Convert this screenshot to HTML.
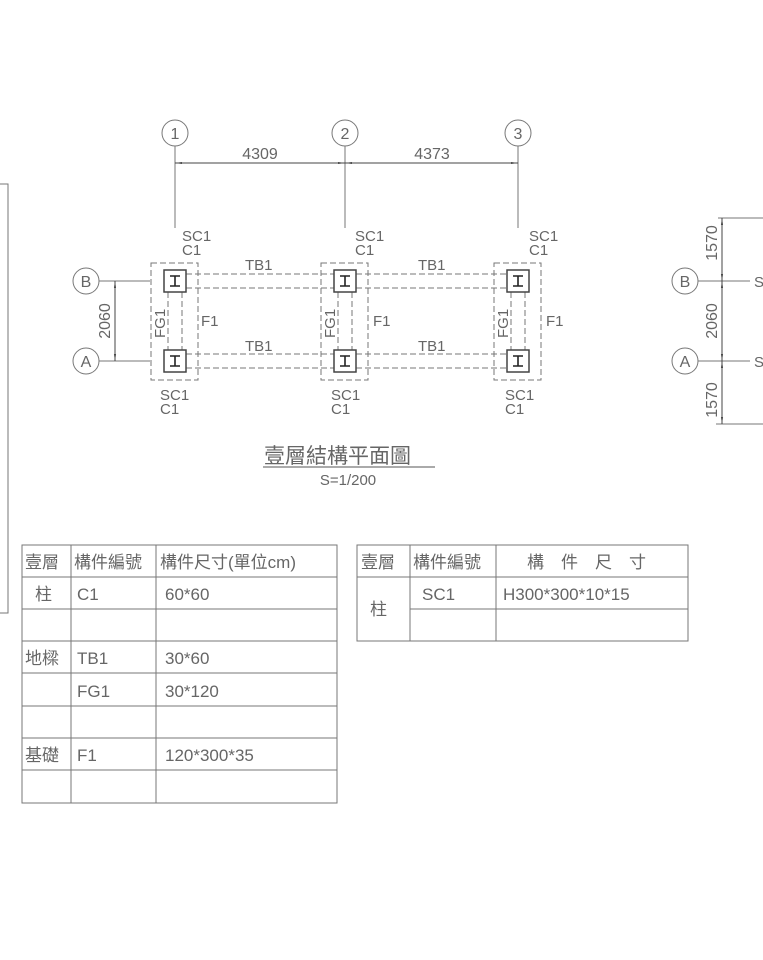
<!DOCTYPE html>
<html><head><meta charset="utf-8"><style>
html,body{margin:0;padding:0;background:#fff;}
svg{display:block;}
text{font-family:"Liberation Sans","Noto Sans CJK TC",sans-serif;fill:#666;}
</style></head><body>
<svg width="763" height="960" viewBox="0 0 763 960" xmlns="http://www.w3.org/2000/svg">
<defs>
<marker id="ar" viewBox="0 0 10 10" refX="10" refY="5" markerWidth="7" markerHeight="7" orient="auto-start-reverse"><path d="M0,3.5 L10,5 L0,6.5 z" fill="#444"/></marker>
<g id="col">
 <rect x="-11" y="-11" width="22" height="22" fill="#fff" stroke="#444" stroke-width="1.5"/>
 <path d="M-5,-5 H5 M0,-5 V5 M-5,5 H5" stroke="#222" stroke-width="1.6" fill="none"/>
</g>
</defs>
<g stroke="#777" stroke-width="1" fill="none">
<path d="M0,184 H8 V613 H0"/>
<circle cx="175" cy="133" r="13"/><circle cx="345" cy="133" r="13"/><circle cx="518" cy="133" r="13"/>
<path d="M175,146 V228 M345,146 V228 M518,146 V228"/>
<circle cx="86" cy="281" r="13"/><circle cx="86" cy="361" r="13"/>
<path d="M99,281 H150 M99,361 H150"/>
<g stroke-dasharray="6,3">
<rect x="151" y="263" width="47" height="117"/>
<rect x="321" y="263" width="47" height="117"/>
<rect x="494" y="263" width="47" height="117"/>
<path d="M186,274 H334 M186,288 H334 M356,274 H507 M356,288 H507"/>
<path d="M186,354 H334 M186,368 H334 M356,354 H507 M356,368 H507"/>
<path d="M168,292 V350 M182,292 V350 M338,292 V350 M352,292 V350 M511,292 V350 M525,292 V350"/>
</g>
<circle cx="685" cy="281" r="13"/><circle cx="685" cy="361" r="13"/>
<path d="M698,281 H750 M698,361 H750 M718,218 H763 M716,424 H763"/>
</g>
<g stroke="#444" stroke-width="1" fill="none">
<line x1="175" y1="163" x2="345" y2="163" marker-start="url(#ar)" marker-end="url(#ar)"/>
<line x1="345" y1="163" x2="518" y2="163" marker-start="url(#ar)" marker-end="url(#ar)"/>
<line x1="115" y1="281" x2="115" y2="361" marker-start="url(#ar)" marker-end="url(#ar)"/>
<line x1="722" y1="218" x2="722" y2="281" marker-start="url(#ar)" marker-end="url(#ar)"/>
<line x1="722" y1="281" x2="722" y2="361" marker-start="url(#ar)" marker-end="url(#ar)"/>
<line x1="722" y1="361" x2="722" y2="424" marker-start="url(#ar)" marker-end="url(#ar)"/>
</g>
<use href="#col" x="175" y="281"/><use href="#col" x="175" y="361"/>
<use href="#col" x="345" y="281"/><use href="#col" x="345" y="361"/>
<use href="#col" x="518" y="281"/><use href="#col" x="518" y="361"/>
<g font-size="16" text-anchor="middle">
<text x="175" y="139">1</text><text x="345" y="139">2</text><text x="518" y="139">3</text>
<text x="86" y="287">B</text><text x="86" y="367">A</text>
<text x="685" y="287">B</text><text x="685" y="367">A</text>
<text x="260" y="159">4309</text><text x="432" y="159">4373</text>
<text transform="translate(110,321) rotate(-90)">2060</text>
<text transform="translate(717,243) rotate(-90)">1570</text>
<text transform="translate(717,321) rotate(-90)">2060</text>
<text transform="translate(717,400) rotate(-90)">1570</text>
</g>
<g font-size="15">
<text x="182" y="241">SC1</text><text x="182" y="255">C1</text>
<text x="355" y="241">SC1</text><text x="355" y="255">C1</text>
<text x="529" y="241">SC1</text><text x="529" y="255">C1</text>
<text x="160" y="400">SC1</text><text x="160" y="414">C1</text>
<text x="331" y="400">SC1</text><text x="331" y="414">C1</text>
<text x="505" y="400">SC1</text><text x="505" y="414">C1</text>
<text x="245" y="270">TB1</text><text x="418" y="270">TB1</text>
<text x="245" y="351">TB1</text><text x="418" y="351">TB1</text>
<text x="201" y="326">F1</text><text x="373" y="326">F1</text><text x="546" y="326">F1</text>
<text transform="translate(165,338) rotate(-90)">FG1</text>
<text transform="translate(335,338) rotate(-90)">FG1</text>
<text transform="translate(508,338) rotate(-90)">FG1</text>
<text x="754" y="287">S</text><text x="754" y="367">S</text>
</g>
<text x="264" y="463" font-size="21" fill="#444">壹層結構平面圖</text>
<line x1="263" y1="467" x2="435" y2="467" stroke="#555"/>
<text x="348" y="485" font-size="15" text-anchor="middle">S=1/200</text>
<g stroke="#777" fill="none">
<rect x="22" y="545" width="315" height="258"/>
<path d="M22,577 H337 M22,609 H337 M22,641 H337 M22,673 H337 M22,706 H337 M22,738 H337 M22,770 H337 M71,545 V803 M156,545 V803"/>
<rect x="357" y="545" width="331" height="96"/>
<path d="M357,577 H688 M410,609 H688 M410,545 V641 M496,545 V641"/>
</g>
<g font-size="17">
<text x="25" y="568">壹層</text><text x="74" y="568">構件編號</text><text x="160" y="568">構件尺寸(單位cm)</text>
<text x="35" y="600">柱</text><text x="77" y="600">C1</text><text x="165" y="600">60*60</text>
<text x="25" y="664">地樑</text><text x="77" y="664">TB1</text><text x="165" y="664">30*60</text>
<text x="77" y="697">FG1</text><text x="165" y="697">30*120</text>
<text x="25" y="761">基礎</text><text x="77" y="761">F1</text><text x="165" y="761">120*300*35</text>
<text x="361" y="568">壹層</text><text x="413" y="568">構件編號</text><text x="527" y="568">構　件　尺　寸</text>
<text x="370" y="615">柱</text><text x="422" y="600">SC1</text><text x="503" y="600">H300*300*10*15</text>
</g>
</svg>
</body></html>
